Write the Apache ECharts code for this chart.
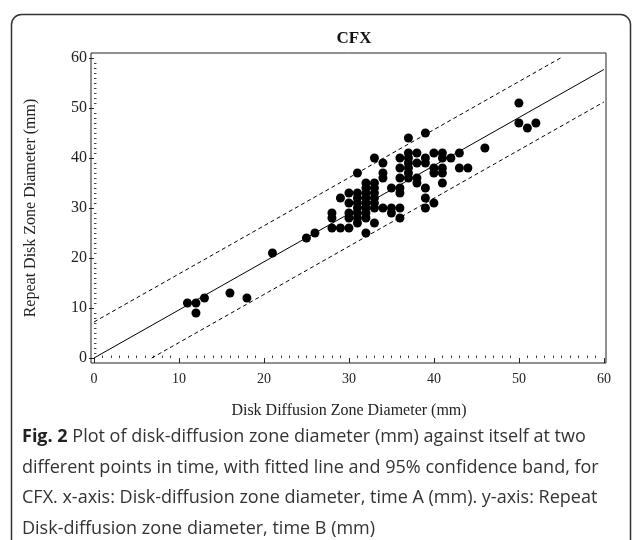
<!DOCTYPE html>
<html><head><meta charset="utf-8">
<script src="https://cdn.jsdelivr.net/npm/echarts@6/dist/echarts.min.js"></script>
<style>html,body{margin:0;padding:0;background:#fff}#c{width:633px;height:540px}</style>
</head><body><div id="c"></div>
<script>
// ---- data ----
const chartTitle = 'CFX';
const xName = 'Disk Diffusion Zone Diameter (mm)';
const yName = 'Repeat Disk Zone Diameter (mm)';
const xTicks = [0, 10, 20, 30, 40, 50, 60];
const yTicks = [0, 10, 20, 30, 40, 50, 60];
// time A (x) and time B (y) zone diameters, mm
const pointX = [11,12,12,13,16,18,21,25,26,
  28,28,28, 29,29, 30,30,30,30,30,
  31,31,31,31,31,31,31,31,
  32,32,32,32,32,32,32,32,32,
  33,33,33,33,33,33,33,33,
  34,34,34,34, 35,35,35,
  36,36,36,36,36,36,36,
  37,37,37,37,37,37,37,
  38,38,38,38, 39,39,39,39,39,39,
  40,40,40,40, 41,41,41,41,41, 42, 43,43, 44, 46, 50,50,51,52];
const pointY = [11,11,9,12,13,12,21,24,25,
  29,28,26, 32,26, 33,31,29,28,26,
  37,33,32,31,30,29,28,27,
  35,34,33,32,31,30,29,28,25,
  40,35,34,33,32,31,30,27,
  39,37,36,30, 34,30,29,
  40,38,36,34,33,30,28,
  44,41,40,39,38,37,36,
  41,39,36,35, 45,40,39,34,32,30,
  41,38,37,31, 41,40,38,37,35, 40, 41,38, 38, 42, 51,47,46,47];
// fitted line and 95% band end points
const fitLine = [[0, 0], [60, 57.7]];
const upperBand = [[0, 7.2], [54.9, 60]];
const lowerBand = [[6.8, 0], [60, 51.2]];
const captionLines = [
  ['Fig. 2', ' Plot of disk-diffusion zone diameter (mm) against itself at two'],
  ['', 'different points in time, with fitted line and 95% confidence band, for'],
  ['', 'CFX. x-axis: Disk-diffusion zone diameter, time A (mm). y-axis: Repeat'],
  ['', 'Disk-diffusion zone diameter, time B (mm)']
];

const xMinor = [], yMinor = [];
for (let v = 0; v <= 60; v++) { if (v % 10) { xMinor.push(v); yMinor.push(v); } }
const points = pointX.map((x, i) => [x, pointY[i]]);

const serif = '"Liberation Serif", "DejaVu Serif", serif';
const sans = '"Open Sans", "Noto Sans", sans-serif';
const X_MIN = -0.35, X_MAX = 60.25, Y_MIN = -1, Y_MAX = 61;

function mainAxis(ticks, isX) {
  return {
    type: 'value', min: isX ? X_MIN : Y_MIN, max: isX ? X_MAX : Y_MAX,
    splitLine: {show: false},
    axisLine: {show: false},
    axisTick: {show: true, inside: false, length: 5, customValues: ticks, lineStyle: {color: '#222', width: 1}},
    axisLabel: {show: true, customValues: ticks, fontFamily: serif, fontSize: isX ? 14 : 16, color: '#222', margin: isX ? 9 : 4}
  };
}
function minorAxis(ticks, isX) {
  return {
    type: 'value', min: isX ? X_MIN : Y_MIN, max: isX ? X_MAX : Y_MAX,
    splitLine: {show: false}, axisLine: {show: false}, axisLabel: {show: false},
    axisTick: {show: true, inside: false, length: 2.5, customValues: ticks, lineStyle: {color: '#444', width: 1}}
  };
}

const chart = echarts.init(document.getElementById('c'), null, {renderer: 'canvas'});
const graphics = [
  {type: 'rect', left: 9, top: 12, shape: {width: 619, height: 600, r: 10}, style: {fill: 'none', stroke: '#333', lineWidth: 1.5}, z: -1},
  {type: 'text', style: {text: xName, font: '16px ' + serif, fill: '#222', align: 'center', verticalAlign: 'middle'}, x: 349, y: 411},
  {type: 'text', style: {text: yName, font: '16px ' + serif, fill: '#222', align: 'center', verticalAlign: 'middle'}, x: 31, y: 208, rotation: Math.PI / 2}
];
captionLines.forEach((ln, i) => {
  graphics.push({type: 'text', style: {
    x: 22, y: 437 + i * 30.5, verticalAlign: 'middle',
    text: (ln[0] ? '{b|' + ln[0] + '}' : '') + '{n|' + ln[1] + '}',
    rich: {
      b: {font: 'bold 18px ' + sans, fill: '#222'},
      n: {font: '18px ' + sans, fill: '#333'}
    }
  }});
});

chart.setOption({
  animation: false,
  backgroundColor: '#fff',
  title: {text: chartTitle, left: 349, textAlign: 'center', top: 25, textStyle: {fontFamily: serif, fontWeight: 'bold', fontSize: 17, color: '#111'}},
  grid: {left: 91, right: 27, top: 53, bottom: 177, show: true, borderColor: '#222', borderWidth: 1, backgroundColor: 'transparent'},
  xAxis: [mainAxis(xTicks, true), minorAxis(xMinor, true)],
  yAxis: [mainAxis(yTicks, false), minorAxis(yMinor, false)],
  graphic: graphics,
  series: [
    {type: 'line', data: fitLine, symbol: 'none', lineStyle: {color: '#000', width: 1}, silent: true, z: 2},
    {type: 'line', data: upperBand, symbol: 'none', lineStyle: {color: '#000', width: 1, type: [4, 3]}, silent: true, z: 2},
    {type: 'line', data: lowerBand, symbol: 'none', lineStyle: {color: '#000', width: 1, type: [4, 3]}, silent: true, z: 2},
    {type: 'scatter', data: points, symbol: 'circle', symbolSize: 9, itemStyle: {color: '#000', opacity: 1}, z: 3}
  ]
});
</script></body></html>
